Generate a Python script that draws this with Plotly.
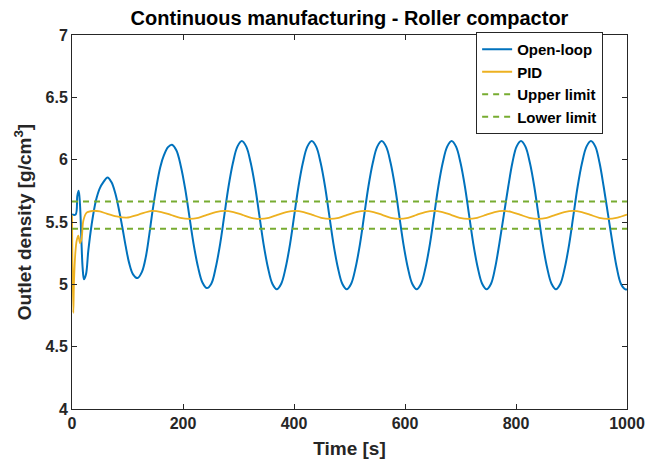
import plotly.graph_objects as go

# ---------------- data ----------------
open_loop_t = [0, 6.5, 9.6, 12, 14.4, 16.8, 19.2, 21.6, 25.2, 29.4, 35.4, 43, 50, 56.5, 64,
               71, 78, 85, 91, 97, 103, 110, 118, 126, 133, 139, 145, 152, 159, 166, 173,
               180, 188, 196, 204, 211.5, 219, 227, 235,
               243, 251, 259, 267, 274.5, 282, 290, 298,
               306, 314, 322, 330, 337.5, 345, 353, 361,
               369, 377, 385, 393, 400.5, 408, 416, 424,
               432, 440, 448, 456, 463.5, 471, 479, 487,
               495, 503, 511, 519, 526.5, 534, 542, 550,
               558, 566, 574, 582, 589.5, 597, 605, 613,
               621, 629, 637, 645, 652.5, 660, 668, 676,
               684, 692, 700, 708, 715.5, 723, 731, 739,
               747, 755, 762.5, 770, 778, 786, 793.5, 801,
               809, 817, 825, 833, 840.5, 848, 856, 864,
               872, 880, 888, 896, 903.5, 911, 919, 927,
               935, 943, 950.5, 958, 966, 974, 981.5, 989,
               997, 1000]
open_loop_v = [5.56, 5.56, 5.71, 5.75, 5.64, 5.37, 5.13, 5.04, 5.08, 5.27, 5.48, 5.67, 5.77, 5.82, 5.857,
               5.82, 5.73, 5.59, 5.45, 5.30, 5.17, 5.08, 5.05, 5.10, 5.22, 5.39, 5.585, 5.78, 5.94, 6.04, 6.10,
               6.12, 6.075, 5.95, 5.765, 5.545, 5.325, 5.14, 5.015,
               4.97, 5.005, 5.135, 5.327, 5.555, 5.783, 5.975, 6.105,
               6.15, 6.105, 5.975, 5.783, 5.555, 5.327, 5.135, 5.005,
               4.96, 5.005, 5.135, 5.327, 5.555, 5.783, 5.975, 6.105,
               6.15, 6.105, 5.975, 5.783, 5.555, 5.327, 5.135, 5.005,
               4.96, 5.005, 5.135, 5.327, 5.555, 5.783, 5.975, 6.105,
               6.15, 6.105, 5.975, 5.783, 5.555, 5.327, 5.135, 5.005,
               4.96, 5.005, 5.135, 5.327, 5.555, 5.783, 5.975, 6.105,
               6.15, 6.105, 5.975, 5.783, 5.555, 5.327, 5.135, 5.005,
               4.96, 5.005, 5.135, 5.327, 5.555, 5.783, 5.975, 6.105,
               6.15, 6.105, 5.975, 5.783, 5.555, 5.327, 5.135, 5.005,
               4.96, 5.005, 5.135, 5.327, 5.555, 5.783, 5.975, 6.105,
               6.15, 6.105, 5.975, 5.783, 5.555, 5.327, 5.135, 5.005,
               4.96, 4.962]

pid_t = [0, 0.8, 2.4, 3.6, 6, 8.4, 11.4, 14.4, 17.4, 20.4, 26.4, 38, 50, 62.5, 80, 98.5, 120, 143.5,
         161, 178, 195, 212, 227.5, 243, 259, 275, 291, 307, 323, 339, 354.5, 370, 386, 402,
         417.5, 433, 449, 465, 480.5, 496, 512, 528, 543.5, 559, 574.5, 590, 605.5, 621,
         636.5, 652, 667.5, 683, 698.5, 714, 730, 746, 761.5, 777, 792.5, 808, 824, 840,
         855.5, 871, 887, 903, 918.5, 934, 950, 966, 983, 1000]
pid_v = [5.555, 5.2, 4.77, 5.02, 5.25, 5.35, 5.39, 5.33, 5.37, 5.51, 5.575, 5.59, 5.585, 5.567, 5.545,
         5.535, 5.56, 5.589, 5.58, 5.557, 5.534, 5.525, 5.534, 5.557, 5.58, 5.59, 5.58, 5.557,
         5.534, 5.525, 5.534, 5.557, 5.58, 5.59, 5.58, 5.557, 5.534, 5.525, 5.534, 5.557,
         5.58, 5.59, 5.58, 5.557, 5.534, 5.525, 5.534, 5.557, 5.58, 5.59, 5.58, 5.557,
         5.534, 5.525, 5.534, 5.557, 5.58, 5.59, 5.58, 5.557, 5.534, 5.525, 5.534, 5.557,
         5.58, 5.59, 5.58, 5.557, 5.534, 5.525, 5.536, 5.56]

limit_t = [0, 1000]
upper_limit = [5.665, 5.665]
lower_limit = [5.445, 5.445]

x_ticks = [0, 200, 400, 600, 800, 1000]
x_ticktext = ["0", "200", "400", "600", "800", "1000"]
y_ticks = [4, 4.5, 5, 5.5, 6, 6.5, 7]
y_ticktext = ["4", "4.5", "5", "5.5", "6", "6.5", "7"]

title_text = "Continuous manufacturing - Roller compactor"
x_label = "Time [s]"
y_label = "Outlet density [g/cm<sup>3</sup>]"

# ---------------- figure ----------------
FONT = "Liberation Sans, Arial, Helvetica, sans-serif"
DARK = "#262626"

fig = go.Figure()
fig.add_trace(go.Scatter(x=open_loop_t, y=open_loop_v, mode="lines", name="Open-loop",
                         line=dict(color="#0072BD", width=2, shape="spline", smoothing=1.0)))
fig.add_trace(go.Scatter(x=pid_t, y=pid_v, mode="lines", name="PID",
                         line=dict(color="#EDB120", width=1.8, shape="spline", smoothing=0.9)))
fig.add_trace(go.Scatter(x=limit_t, y=upper_limit, mode="lines", name="Upper limit",
                         line=dict(color="#77AC30", width=2, dash="6px,5px")))
fig.add_trace(go.Scatter(x=limit_t, y=lower_limit, mode="lines", name="Lower limit",
                         line=dict(color="#77AC30", width=2, dash="6px,5px")))

axis_common = dict(showgrid=False, zeroline=False, showline=True, linecolor=DARK, linewidth=1,
                   mirror="ticks", ticks="inside", ticklen=5, tickcolor=DARK, tickwidth=1,
                   automargin=False,
                   tickfont=dict(family=FONT, size=16, color=DARK, weight="bold"))

# The page body adds an 8px offset, so the figure is 8px smaller than the window.
W, H = 655, 456
ML, MR, MT, MB = 64, 36, 27, 55

fig.update_layout(
    width=W, height=H,
    margin=dict(l=ML, r=MR, t=MT, b=MB),
    paper_bgcolor="white", plot_bgcolor="white",
    title=dict(text=title_text, x=(ML + (W - ML - MR) / 2) / W, xanchor="center",
               y=1 - 10 / H, yanchor="middle",
               font=dict(family=FONT, size=20, color="black", weight="bold")),
    xaxis=dict(range=[0, 1000], tickvals=x_ticks, ticktext=x_ticktext,
               title=dict(text=x_label, standoff=10,
                          font=dict(family=FONT, size=19, color=DARK, weight="bold")),
               **axis_common),
    yaxis=dict(range=[4, 7], tickvals=y_ticks, ticktext=y_ticktext,
               title=dict(text=y_label, standoff=8,
                          font=dict(family=FONT, size=19, color=DARK, weight="bold")),
               **axis_common),
    legend=dict(x=0.957, y=1.008, xanchor="right", yanchor="top",
                bgcolor="white", bordercolor=DARK, borderwidth=1,
                font=dict(family=FONT, size=15, color="black", weight="bold"),
                tracegroupgap=0, itemwidth=30),
    showlegend=True,
)

fig.write_html("out.html")
